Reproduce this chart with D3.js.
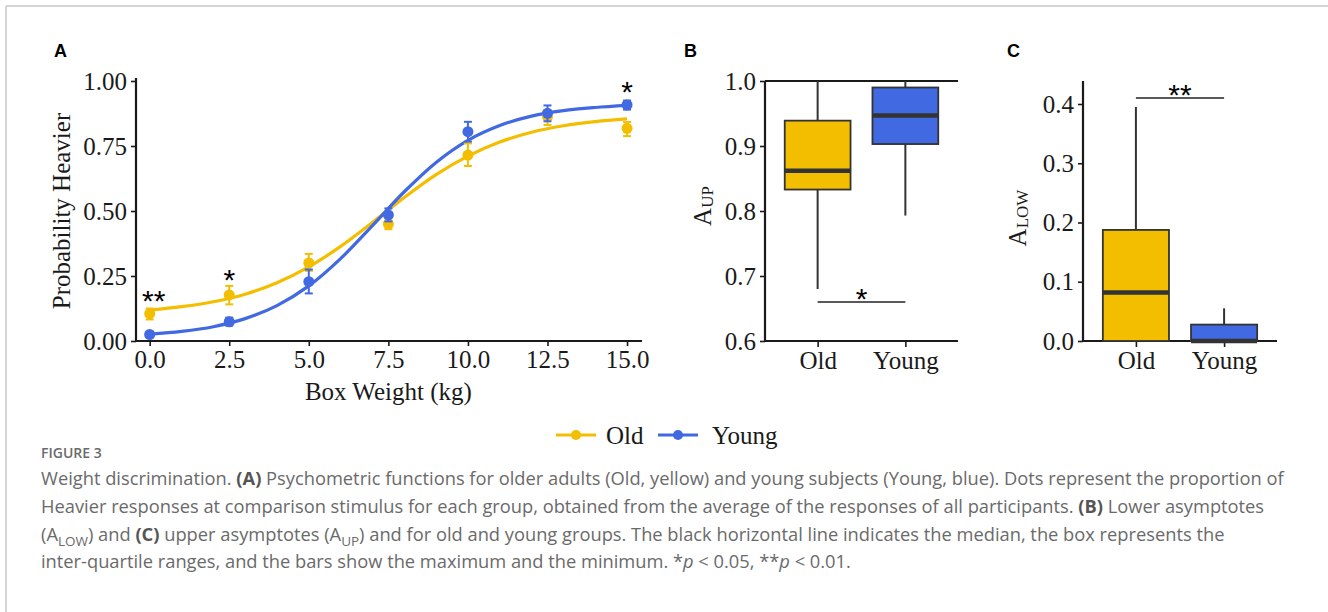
<!DOCTYPE html>
<html><head><meta charset="utf-8">
<script src="https://cdn.jsdelivr.net/npm/d3@7"></script>
<style>
body{margin:0;background:#fff;}
svg{display:block;}
</style></head>
<body>
<svg id="chart" width="1328" height="612"></svg>
<script>
// ---------- Data ----------
const groups = ["Old", "Young"];
const weights = [0, 2.5, 5, 7.5, 10, 12.5, 15];
const oldMean   = [0.105, 0.177, 0.300, 0.450, 0.715, 0.863, 0.818];
const oldLo     = [0.083, 0.141, 0.270, 0.430, 0.673, 0.831, 0.788];
const oldHi     = [0.125, 0.212, 0.335, 0.470, 0.760, 0.885, 0.842];
const youngMean = [0.025, 0.074, 0.228, 0.485, 0.805, 0.876, 0.908];
const youngLo   = [0.016, 0.059, 0.183, 0.460, 0.767, 0.845, 0.890];
const youngHi   = [0.034, 0.090, 0.275, 0.510, 0.843, 0.906, 0.925];
// fitted psychometric curves
const fitX      = [0,1,2,3,4,5,6,7,8,9,10,11,12,13,14,15];
const oldFit    = [0.119,0.132,0.151,0.180,0.224,0.285,0.364,0.456,0.552,0.640,0.711,0.765,0.803,0.828,0.844,0.854];
const youngFit  = [0.026,0.037,0.055,0.086,0.136,0.212,0.317,0.444,0.574,0.687,0.772,0.829,0.865,0.886,0.898,0.906];
const xTicksA = [0, 2.5, 5, 7.5, 10, 12.5, 15];
const yTicksA = [0, 0.25, 0.5, 0.75, 1];
const sigAx = [0, 2.5, 15];
const sigAy = [0.17, 0.25, 0.975];
const sigAlabel = ["**", "*", "*"];
// Panel B: upper asymptotes
const upMin = [0.680, 0.793];
const upQ1  = [0.833, 0.903];
const upMed = [0.862, 0.947];
const upQ3  = [0.939, 0.990];
const upMax = [1.000, 1.000];
const yTicksB = [0.6, 0.7, 0.8, 0.9, 1.0];
// Panel C: lower asymptotes
const lowMin = [0.000, 0.000];
const lowQ1  = [0.000, 0.000];
const lowMed = [0.082, 0.000];
const lowQ3  = [0.1875, 0.0277];
const lowMax = [0.395, 0.0552];
const yTicksC = [0, 0.1, 0.2, 0.3, 0.4];

const colors = {Old: "#F4BE00", Young: "#4169E1"};
const serif = "'Liberation Serif','Times New Roman',serif";
const sans = "'Liberation Sans',Arial,sans-serif";
const ink = "#1a1a1a";
const fs = 25;

const svg = d3.select("#chart");
svg.append("rect").attr("width",1328).attr("height",612).attr("fill","#fff");
// page frame
svg.append("line").attr("x1",6).attr("x2",1328).attr("y1",6).attr("y2",6).attr("stroke","#d4d4d4").attr("stroke-width",2);
svg.append("line").attr("x1",6).attr("x2",6).attr("y1",6).attr("y2",612).attr("stroke","#d4d4d4").attr("stroke-width",2);

function styleAxis(g){
  g.select(".domain").remove();
  g.selectAll(".tick line").attr("stroke", ink).attr("stroke-width", 1.6);
  g.selectAll(".tick text").attr("font-family", serif).attr("font-size", fs).attr("fill", ink);
}
function panelLabel(x, y, t){
  svg.append("text").attr("x",x).attr("y",y).text(t)
    .attr("font-family",sans).attr("font-weight","bold").attr("font-size",18).attr("fill","#000");
}

// ---------- Panel A ----------
const xA = d3.scaleLinear().domain([-0.43, 15.47]).range([136, 642]);
const yA = d3.scaleLinear().domain([0, 1]).range([341, 81]);
panelLabel(54, 57, "A");
const gA = svg.append("g");
gA.append("g").attr("transform","translate(136,0)")
  .call(d3.axisLeft(yA).tickValues(yTicksA).tickFormat(d3.format(".2f")).tickSize(5).tickPadding(4))
  .call(styleAxis);
gA.append("g").attr("transform","translate(0,341)")
  .call(d3.axisBottom(xA).tickValues(xTicksA).tickFormat(d3.format(".1f")).tickSize(5).tickPadding(4))
  .call(styleAxis);
gA.append("line").attr("x1",136).attr("x2",136).attr("y1",yA(0)+1).attr("y2",yA(1.012)).attr("stroke",ink).attr("stroke-width",2.2);
gA.append("line").attr("x1",135).attr("x2",xA(15.47)).attr("y1",341).attr("y2",341).attr("stroke",ink).attr("stroke-width",2.2);
gA.append("text").attr("transform",`translate(${61},${yA(0.5)}) rotate(-90)`)
  .attr("text-anchor","middle").attr("dominant-baseline","central")
  .attr("font-family",serif).attr("font-size",fs).attr("fill",ink).text("Probability Heavier");
gA.append("text").attr("x",xA(7.5)).attr("y",400).attr("text-anchor","middle")
  .attr("font-family",serif).attr("font-size",fs).attr("fill",ink).text("Box Weight (kg)");

const line = d3.line().x(d=>xA(d[0])).y(d=>yA(d[1])).curve(d3.curveCatmullRom.alpha(0.5));
const seriesA = [
  {name:"Old", fit:oldFit, mean:oldMean, lo:oldLo, hi:oldHi},
  {name:"Young", fit:youngFit, mean:youngMean, lo:youngLo, hi:youngHi}
];
seriesA.forEach(s=>{
  gA.append("path").datum(fitX.map((x,i)=>[x, s.fit[i]])).attr("d", line)
    .attr("fill","none").attr("stroke",colors[s.name]).attr("stroke-width",3.2);
});
seriesA.forEach(s=>{
  const c = colors[s.name];
  weights.forEach((w,i)=>{
    const x = xA(w);
    gA.append("line").attr("x1",x).attr("x2",x).attr("y1",yA(s.lo[i])).attr("y2",yA(s.hi[i])).attr("stroke",c).attr("stroke-width",2);
    [s.lo[i], s.hi[i]].forEach(v=>gA.append("line").attr("x1",x-4).attr("x2",x+4).attr("y1",yA(v)).attr("y2",yA(v)).attr("stroke",c).attr("stroke-width",2));
    gA.append("circle").attr("cx",x).attr("cy",yA(s.mean[i])).attr("r",5.5).attr("fill",c);
  });
});
sigAx.forEach((x,i)=>{
  gA.append("text").attr("x",xA(x)+(sigAlabel[i].length>1?4:0)).attr("y",yA(sigAy[i])+14)
    .attr("text-anchor","middle").attr("font-family",sans).attr("font-size",30).attr("fill","#000").text(sigAlabel[i]);
});

// legend
const leg = svg.append("g").attr("transform","translate(0,435)");
[["Old",556,606],["Young",658,712]].forEach(([n,x0,tx])=>{
  leg.append("line").attr("x1",x0).attr("x2",x0+40).attr("y1",0).attr("y2",0).attr("stroke",colors[n]).attr("stroke-width",3.2);
  leg.append("circle").attr("cx",x0+20).attr("cy",0).attr("r",5).attr("fill",colors[n]);
  leg.append("text").attr("x",tx).attr("y",0).attr("dominant-baseline","central")
    .attr("font-family",serif).attr("font-size",fs).attr("fill",ink).text(n);
});

// ---------- Box panels ----------
function boxPanel(opts){
  const {x0,x1,yScale,ticks,yTop,label,sub,labelX,labelY,mins,q1s,meds,q3s,maxs,topLine,sig} = opts;
  const xs = d3.scaleLinear().domain([0.4, 2.6]).range([x0, x1]);
  const g = svg.append("g");
  g.append("g").attr("transform",`translate(${x0},0)`)
    .call(d3.axisLeft(yScale).tickValues(ticks).tickFormat(d3.format(".1f")).tickSize(5).tickPadding(4))
    .call(styleAxis);
  g.append("g").attr("transform",`translate(0,${yScale.range()[0]})`)
    .call(d3.axisBottom(xs).tickValues([1,2]).tickFormat((d,i)=>groups[i]).tickSize(6).tickPadding(4))
    .call(styleAxis);
  const y0 = yScale.range()[0];
  g.append("line").attr("x1",x0).attr("x2",x0).attr("y1",y0+1).attr("y2",yScale(yTop)).attr("stroke",ink).attr("stroke-width",2.2);
  g.append("line").attr("x1",x0-1).attr("x2",x1).attr("y1",y0).attr("y2",y0).attr("stroke",ink).attr("stroke-width",2.2);
  if(topLine!==undefined){
    g.append("line").attr("x1",x0).attr("x2",x1).attr("y1",yScale(topLine)).attr("y2",yScale(topLine)).attr("stroke",ink).attr("stroke-width",2);
  }
  const bw = xs(1.375)-xs(1);
  groups.forEach((n,i)=>{
    const cx = xs(i+1);
    g.append("line").attr("x1",cx).attr("x2",cx).attr("y1",yScale(maxs[i])).attr("y2",yScale(q3s[i])).attr("stroke","#333").attr("stroke-width",2);
    g.append("line").attr("x1",cx).attr("x2",cx).attr("y1",yScale(q1s[i])).attr("y2",yScale(mins[i])).attr("stroke","#333").attr("stroke-width",2);
    g.append("rect").attr("x",cx-bw).attr("width",2*bw).attr("y",yScale(q3s[i])).attr("height",yScale(q1s[i])-yScale(q3s[i]))
      .attr("fill",colors[n]).attr("stroke","#333").attr("stroke-width",1.8);
    g.append("line").attr("x1",cx-bw).attr("x2",cx+bw).attr("y1",yScale(meds[i])).attr("y2",yScale(meds[i])).attr("stroke","#333").attr("stroke-width",4.5);
  });
  // significance bracket
  g.append("line").attr("x1",xs(1)).attr("x2",xs(2)).attr("y1",yScale(sig.y)).attr("y2",yScale(sig.y)).attr("stroke","#222").attr("stroke-width",1.5);
  g.append("text").attr("x",xs(1.5)).attr("y",yScale(sig.y)+7).attr("text-anchor","middle")
    .attr("font-family",sans).attr("font-size",30).attr("fill","#000").text(sig.label);
  // y label
  const t = g.append("text").attr("transform",`translate(${labelX},${labelY}) rotate(-90)`)
    .attr("text-anchor","middle").attr("dominant-baseline","central")
    .attr("font-family",serif).attr("font-size",fs).attr("fill",ink);
  t.append("tspan").text(label);
  t.append("tspan").attr("font-size",17).attr("dy",5).text(sub);
  return g;
}
panelLabel(684, 57, "B");
boxPanel({x0:765, x1:958, yScale:d3.scaleLinear().domain([0.6,1.0]).range([341,81]), ticks:yTicksB, yTop:1.0,
  label:"A", sub:"UP", labelX:702, labelY:206, mins:upMin, q1s:upQ1, meds:upMed, q3s:upQ3, maxs:upMax, topLine:1.0,
  sig:{y:0.66, label:"*"}});
panelLabel(1007, 57, "C");
boxPanel({x0:1083, x1:1277, yScale:d3.scaleLinear().domain([0,0.4]).range([341,104]), ticks:yTicksC, yTop:0.439,
  label:"A", sub:"LOW", labelX:1017, labelY:218, mins:lowMin, q1s:lowQ1, meds:lowMed, q3s:lowQ3, maxs:lowMax,
  sig:{y:0.41, label:"**"}});

// ---------- Caption ----------
const capFont = "'Open Sans','Noto Sans',sans-serif";
const capColor = "#6a6a6a";
svg.append("text").attr("x",41).attr("y",458).attr("font-family",capFont).attr("font-size",14)
  .attr("font-weight",600).attr("fill",capColor).text("FIGURE 3");
const capLines = [
  [["Weight discrimination. ",0],["(A)",1],[" Psychometric functions for older adults (Old, yellow) and young subjects (Young, blue). Dots represent the proportion of",0]],
  [["Heavier responses at comparison stimulus for each group, obtained from the average of the responses of all participants. ",0],["(B)",1],[" Lower asymptotes",0]],
  [["(A",0],["LOW",2],[") and ",0],["(C)",1],[" upper asymptotes (A",0],["UP",2],[") and for old and young groups. The black horizontal line indicates the median, the box represents the",0]],
  [["inter-quartile ranges, and the bars show the maximum and the minimum. *",0],["p",3],[" < 0.05, **",0],["p",3],[" < 0.01.",0]]
];
const capBase = [485, 513, 541, 568];
capLines.forEach((parts,li)=>{
  const t = svg.append("text").attr("x",41).attr("y",capBase[li]).attr("font-family",capFont)
    .attr("font-size",18.3).attr("fill",capColor).attr("font-weight",400);
  let sub=false;
  parts.forEach(([s,k])=>{
    const sp = t.append("tspan").text(s);
    if(k===1) sp.attr("font-weight",700).attr("fill","#555");
    if(k===3) sp.attr("font-style","italic");
    if(k===2){ sp.attr("font-size",13.5).attr("dy",5); sub=true; }
    else if(sub){ sp.attr("dy",-5); sub=false; }
  });
});
</script>
</body></html>
